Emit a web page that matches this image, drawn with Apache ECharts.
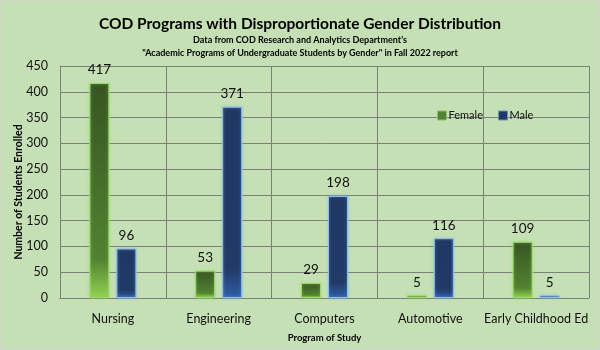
<!DOCTYPE html>
<html>
<head>
<meta charset="utf-8">
<script src="https://cdn.jsdelivr.net/npm/echarts@6/dist/echarts.min.js"></script>
<style>
  html, body { margin: 0; padding: 0; }
  #main { width: 600px; height: 350px; box-sizing: border-box; border: 1px solid #d0d6cc; }
</style>
</head>
<body>
<div id="main"></div>
<script>
// data
const programs = ['Nursing', 'Engineering', 'Computers', 'Automotive', 'Early Childhood Ed']
const female = [417, 53, 29, 5, 109]
const male = [96, 371, 198, 116, 5]

const chart = echarts.init(document.getElementById('main'))

const greenFill = new echarts.graphic.LinearGradient(0, 0, 0, 1, [
  { offset: 0, color: '#375522' },
  { offset: 0.82, color: '#528232' },
  { offset: 1, color: '#93d24f' }
])
const blueFill = new echarts.graphic.LinearGradient(0, 0, 0, 1, [
  { offset: 0, color: '#1f3763' },
  { offset: 0.85, color: '#213a68' },
  { offset: 1, color: '#2f5ea6' }
])

const font = 'Lato, sans-serif'

chart.setOption({
  backgroundColor: '#c5e0b4',
  textStyle: { fontFamily: font },
  title: {
    text: 'COD Programs with Disproportionate Gender Distribution',
    subtext: 'Data from COD Research and Analytics Department\'s\n"Academic Programs of Undergraduate Students by Gender" in Fall 2022 report',
    left: 'center',
    top: 10,
    itemGap: 2,
    textStyle: { fontFamily: font, fontSize: 15.5, fontWeight: 'bold', color: '#000' },
    subtextStyle: { fontFamily: font, fontSize: 9, fontWeight: 'bold', color: '#000', lineHeight: 13, align: 'center' }
  },
  legend: {
    left: 431,
    top: 104,
    itemWidth: 9,
    itemHeight: 9,
    itemGap: 15,
    icon: 'rect',
    textStyle: { fontFamily: font, fontSize: 11, color: '#111', padding: [0, 0, 0, -3] },
    data: [
      { name: 'Female', itemStyle: { color: '#548235', borderColor: '#8fbf6c', borderWidth: 1 } },
      { name: 'Male', itemStyle: { color: '#1f3864', borderColor: '#6f8fc0', borderWidth: 1 } }
    ]
  },
  grid: { left: 59, right: 10, top: 65, bottom: 51, outerBoundsMode: 'none' },
  xAxis: {
    type: 'category',
    data: programs,
    name: 'Program of Study',
    nameLocation: 'middle',
    nameGap: 35,
    nameTextStyle: { fontFamily: font, fontSize: 9.5, fontWeight: 'bold', color: '#000' },
    axisLine: { lineStyle: { color: '#7a7f78' } },
    axisTick: { show: false },
    axisLabel: { interval: 0, fontFamily: font, fontSize: 12.5, color: '#111', margin: 14 },
    splitLine: { show: true, interval: 0, lineStyle: { color: '#7a7f78', width: 1 } }
  },
  yAxis: {
    type: 'value',
    min: 0,
    max: 450,
    interval: 50,
    name: 'Number of Students Enrolled',
    nameLocation: 'middle',
    nameGap: 36,
    nameMoveOverlap: false,
    nameTextStyle: { fontFamily: font, fontSize: 10.5, fontWeight: 'bold', color: '#000', padding: [0, 20, 0, 0] },
    axisLine: { show: true, lineStyle: { color: '#7a7f78' } },
    axisTick: { show: false },
    axisLabel: { fontFamily: font, fontSize: 12.5, color: '#111', margin: 12 },
    splitLine: { lineStyle: { color: '#7a7f78', width: 1 } }
  },
  series: [
    {
      name: 'Female',
      type: 'bar',
      data: female,
      barWidth: 20,
      barGap: '35%',
      itemStyle: {
        color: greenFill,
        borderColor: '#9fd873',
        borderWidth: 1,
        shadowColor: 'rgba(150,225,100,0.7)',
        shadowBlur: 3
      },
      label: { show: true, position: 'top', distance: 6, fontFamily: font, fontSize: 13.5, color: '#111' }
    },
    {
      name: 'Male',
      type: 'bar',
      data: male,
      barWidth: 20,
      itemStyle: {
        color: blueFill,
        borderColor: '#8fbde6',
        borderWidth: 1,
        shadowColor: 'rgba(130,185,235,0.7)',
        shadowBlur: 3
      },
      label: { show: true, position: 'top', distance: 6, fontFamily: font, fontSize: 13.5, color: '#111' }
    }
  ]
})
</script>
</body>
</html>
